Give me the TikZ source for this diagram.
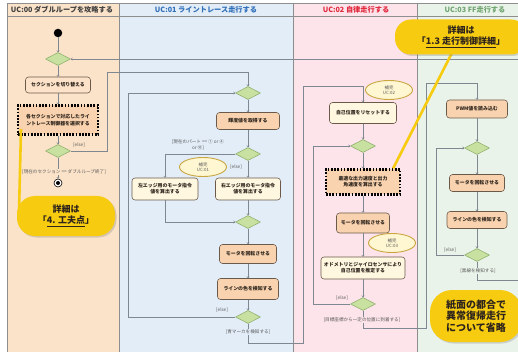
\documentclass[tikz,border=0pt]{standalone}
\usepackage{fontspec}
\setmainfont{Noto Sans CJK JP}
\usetikzlibrary{shapes.geometric,arrows.meta,shadows}
\definecolor{laneA}{HTML}{FBE3C9}
\definecolor{laneB}{HTML}{E3EDF8}
\definecolor{laneC}{HTML}{FCE4EA}
\definecolor{laneD}{HTML}{EAF3EA}
\definecolor{frame}{HTML}{8E8E8E}
\definecolor{linec}{HTML}{7F8790}
\definecolor{peach}{HTML}{F9D3AF}
\definecolor{peachL}{HTML}{FBE2C8}
\definecolor{cream}{HTML}{FFF7E0}
\definecolor{actb}{HTML}{6B5A4A}
\definecolor{diaf}{HTML}{C8E0A0}
\definecolor{diab}{HTML}{88AC66}
\definecolor{callout}{HTML}{F7CB10}
\definecolor{notef}{HTML}{FFF6D2}
\definecolor{noteb}{HTML}{C9A640}
\definecolor{hA}{HTML}{404040}
\definecolor{hB}{HTML}{2F6FB8}
\definecolor{hC}{HTML}{E0283C}
\definecolor{hD}{HTML}{6FA46F}
\definecolor{lbl}{HTML}{5A5A5A}
\definecolor{txt}{HTML}{2E241C}
\begin{document}
\begin{tikzpicture}[x=1pt,y=-1pt,
  act/.style={draw=actb, line width=0.55pt, rounded corners=3pt, align=center, inner sep=0pt, text=txt, font=\bfseries\fontsize{4.9}{6.1}\selectfont},
  dotbox/.style={draw=black, line width=2.2pt, dash pattern=on 1.7pt off 1.5pt, align=center, inner sep=0pt, fill=peach, text=txt, font=\bfseries\fontsize{4.9}{6.3}\selectfont},
  dec/.style={diamond, draw=diab, fill=diaf, line width=0.5pt, minimum width=25pt, minimum height=13pt, inner sep=0pt},
  conn/.style={draw=linec, line width=0.5pt, -{To[length=2pt,width=3pt]}},
  wire/.style={draw=linec, line width=0.5pt},
  guard/.style={text=lbl, font=\fontsize{4.6}{5.4}\selectfont, inner sep=0.5pt, align=center},
  note/.style={ellipse, draw=noteb, fill=notef, line width=0.9pt, minimum width=47pt, minimum height=19pt, inner sep=0pt, align=center, text=lbl, font=\fontsize{4.4}{5.3}\selectfont},
  hdr/.style={font=\bfseries\fontsize{7.2}{8}\selectfont},
  callbox/.style={fill=callout, align=center, text=txt, font=\bfseries\fontsize{9}{11}\selectfont, drop shadow={shadow xshift=1.5pt, shadow yshift=-1.5pt, opacity=0.3}},
  pointer/.style={draw=callout, line width=2.6pt},
]
\useasboundingbox (0,0) rectangle (518,352);
\fill[white] (0,0) rectangle (518,352);
% swimlanes
\path[fill=laneA, draw=frame, line width=0.6pt] (7,3) rectangle (119.5,354);
\path[fill=laneB, draw=frame, line width=0.6pt] (119.5,3) rectangle (293.5,354);
\path[fill=laneC, draw=frame, line width=0.6pt] (293.5,3) rectangle (417.5,354);
\path[fill=laneD, draw=frame, line width=0.6pt] (417.5,3) rectangle (540,354);
\draw[frame, line width=0.6pt] (7,16.5) -- (540,16.5);
\node[hdr, text=hA] (h0) at (62,10) {UC:00 ダブルループを攻略する};
\node[hdr, text=hB] (h1) at (206,10) {UC:01 ライントレース走行する};
\node[hdr, text=hC] (h2) at (356,10) {UC:02 自律走行する};
\node[hdr, text=hD] (h3) at (475,10) {UC:03 FF走行する};

% UC:00
\node[circle, fill=black, minimum size=8.5pt, inner sep=0pt] (start) at (58,33) {};
\node[dec] (d0) at (58,59) {};
\node[act, fill=peachL, minimum width=65pt, minimum height=16pt] (a1) at (58,85) {セクションを切り替える};
\node[dotbox, minimum width=80pt, minimum height=29pt] (a2) at (58,120) {各セクションで対応したライ\\ントレース制御器を選択する};
\node[dec] (d1) at (58,151) {};
\node[circle, draw=black, fill=white, line width=0.6pt, minimum size=8pt, inner sep=0pt] (fin) at (58,183) {};
\node[circle, fill=black, minimum size=4pt, inner sep=0pt] (findot) at (fin) {};

% UC:01
\node[dec] (d2) at (248,93) {};
\node[act, fill=peach, minimum width=63pt, minimum height=17pt] (b1) at (248,121) {輝度値を取得する};
\node[dec] (d3) at (248,154) {};
\node[act, fill=cream, minimum width=66pt, minimum height=22pt] (b2) at (165,189) {左エッジ用のモータ指令\\値を算出する};
\node[act, fill=cream, minimum width=65pt, minimum height=22pt] (b3) at (248,189) {右エッジ用のモータ指令\\値を算出する};
\node[note] (n1) at (203,167) {補完\\UC:01};
\node[dec] (d4) at (248,222) {};
\node[act, fill=peach, minimum width=57pt, minimum height=19pt] (b4) at (248,254) {モータを回転させる};
\node[act, fill=peach, minimum width=61pt, minimum height=21pt] (b5) at (248,289) {ラインの色を検知する};
\node[dec] (d5) at (248,317) {};

% UC:02
\node[act, fill=cream, minimum width=67pt, minimum height=21pt] (c1) at (363,113) {自己位置をリセットする};
\node[note] (n2) at (389,90) {補完\\UC:02};
\node[dec] (d6) at (363,146) {};
\node[dotbox, minimum width=74pt, minimum height=25pt] (c2) at (363,182) {最適な出力速度と出力\\角速度を算出する};
\node[act, fill=peach, minimum width=53pt, minimum height=20pt] (c3) at (363,223) {モータを回転させる};
\node[note] (n3) at (392,243) {補完\\UC:03};
\node[act, fill=cream, minimum width=84pt, minimum height=22pt] (c4) at (363,268) {オドメトリとジャイロセンサにより\\自己位置を推定する};
\node[dec] (d7) at (363,304) {};

% UC:03
\node[act, fill=peach, minimum width=61pt, minimum height=18pt] (e1) at (477,109) {PWM値を読み込む};
\node[dec] (d8) at (477,148) {};
\node[act, fill=peach, minimum width=55pt, minimum height=17pt] (e2) at (477,183) {モータを回転させる};
\node[act, fill=peach, minimum width=60pt, minimum height=17pt] (e3) at (477,220) {ラインの色を検知する};
\node[dec] (d9) at (477,255) {};
\coordinate (exitR) at (520,280);
\coordinate (entR) at (520,59);

% connectors UC:00
\draw[conn] (start) -- (d0);
\draw[conn] (entR) -- (d0.east);
\draw[conn] (d0) -- (a1);
\draw[conn] (a1) -- (a2);
\draw[conn] (a2) -- (d1);
\draw[conn] (d1) -- (fin);
\draw[conn] (d1.east) -- (107,151) -- (107,72) -- (248,72) -- (d2.north);
% UC:01
\draw[conn] (d2) -- (b1);
\draw[conn] (b1) -- (d3);
\draw[conn] (d3.west) -- (165,154) -- (b2.north);
\draw[conn] (d3) -- (b3);
\draw[conn] (b2.south) -- (165,222) -- (d4.west);
\draw[conn] (b3) -- (d4);
\draw[conn] (d4) -- (b4);
\draw[conn] (b4) -- (b5);
\draw[conn] (b5) -- (d5);
\draw[conn] (d5.west) -- (128,317) -- (128,93) -- (d2.west);
\draw[conn] (d5.south) -- (248,343) -- (303,343) -- (303,86) -- (363,86) -- (c1.north);
% UC:02
\draw[conn] (c1) -- (d6);
\draw[conn] (d6) -- (c2);
\draw[conn] (c2) -- (c3);
\draw[conn] (c3) -- (c4);
\draw[conn] (c4) -- (d7);
\draw[conn] (d7.west) -- (313,304) -- (313,146) -- (d6.west);
\draw[conn] (d7.south) -- (363,328) -- (426,328) -- (426,83) -- (477,83) -- (e1.north);
% UC:03
\draw[conn] (e1) -- (d8);
\draw[conn] (d8) -- (e2);
\draw[conn] (e2) -- (e3);
\draw[conn] (e3) -- (d9);
\draw[conn] (d9.west) -- (436,255) -- (436,148) -- (d8.west);
\draw[wire] (d9.south) -- (477,280) -- (exitR);

% guards
\node[guard, fill=laneA] (g1) at (64,172) {[現在のセクション == ダブルループ終了]};
\node[guard] (g2) at (79,145) {[else]};
\node[guard] (g3) at (198,145) {[現在のパート == ① or ④\\or ⑩]};
\node[guard] (g4) at (236,167) {[else]};
\node[guard] (g5) at (222,310) {[else]};
\node[guard, fill=laneB] (g6) at (248,332) {[青マーカを検知する]};
\node[guard] (g7) at (342,298) {[else]};
\node[guard, fill=laneC] (g8) at (362,320) {[目標座標から一定の位置に到着する]};
\node[guard] (g9) at (450,250) {[else]};
\node[guard, fill=laneD] (g10) at (478,271) {[黒線を検知する]};

% callouts
\coordinate (p1a) at (21,129);
\coordinate (p1b) at (19,212);
\draw[pointer] (p1a) -- (p1b);
\coordinate (p2a) at (456,45);
\draw[pointer] (p2a) -- ([xshift=-8pt]c2.north east);
\node[callbox, minimum width=98pt, minimum height=40pt, rounded corners=18pt] (k1) at (66,216) {詳細は\\「\underline{4. 工夫点}」};
\node[callbox, minimum width=132pt, minimum height=35pt, rounded corners=16pt] (k2) at (461,37) {詳細は\\「\underline{1.3 走行制御詳細}」};
\node[callbox, minimum width=92pt, minimum height=52pt, rounded corners=22pt, font=\bfseries\fontsize{10}{11.5}\selectfont] (k3) at (476,316) {紙面の都合で\\異常復帰走行\\について省略};
\end{tikzpicture}
\end{document}
